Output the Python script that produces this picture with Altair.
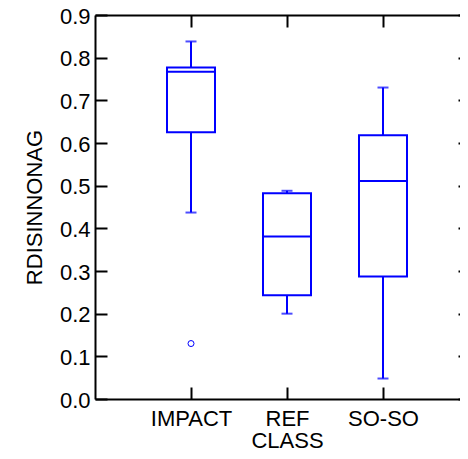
import altair as alt
import pandas as pd

classes = ["IMPACT", "REF", "SO-SO"]
lower = [0.437, 0.200, 0.048]
q1 = [0.625, 0.243, 0.287]
median = [0.767, 0.381, 0.511]
q3 = [0.777, 0.482, 0.618]
upper = [0.838, 0.488, 0.730]
outlier_class = ["IMPACT"]
outlier_value = [0.130]
y_ticks = [0.0, 0.1, 0.2, 0.3, 0.4, 0.5, 0.6, 0.7, 0.8, 0.9]

stats = pd.DataFrame({"CLASS": classes, "lower": lower, "q1": q1,
                      "median": median, "q3": q3, "upper": upper})
outs = pd.DataFrame({"CLASS": outlier_class, "value": outlier_value})

BLUE = "#0000ff"
FONT = "Liberation Sans"
FS = 22

# the original plot area is 384 wide; only the part that fits the page is shown
xscale = alt.Scale(type="point", domain=classes, padding=1, range=[0, 384])
yscale = alt.Scale(domain=[0, 0.9], nice=False, zero=False)

line = dict(domainColor="black", domainWidth=2, tickColor="black", tickWidth=2, grid=False)
txt = dict(labelFont=FONT, labelFontSize=FS, labelColor="black",
           titleFont=FONT, titleFontSize=FS, titleFontWeight="normal", titleColor="black")

x_bottom_main = alt.Axis(orient="bottom", title="CLASS", labelAngle=0, labelPadding=9,
                         ticks=False, domain=True, titlePadding=1, **txt, **line)
x_bottom_ticks = alt.Axis(orient="bottom", title=None, labels=False, domain=False,
                          offset=-12, tickSize=12, **line)
x_top_main = alt.Axis(orient="top", title=None, labels=False, ticks=False, domain=True, **line)
x_top_ticks = alt.Axis(orient="top", title=None, labels=False, domain=False,
                       offset=-12, tickSize=12, **line)
y_left_main = alt.Axis(orient="left", title="RDISINNONAG", values=y_ticks, format=".1f",
                       labelPadding=5, labelOffset=1, ticks=False, domain=True,
                       titlePadding=13, **txt, **line)
y_left_ticks = alt.Axis(orient="left", title=None, labels=False, domain=False, values=y_ticks,
                        offset=-12, tickSize=12, **line)
y_right_ticks = alt.Axis(orient="right", title=None, labels=False, domain=False, values=y_ticks,
                         offset=-2, tickSize=2, **line)

base = alt.Chart(stats)

upper_whisker = base.mark_rule(color=BLUE, strokeWidth=2).encode(
    x=alt.X("CLASS:N", scale=xscale, axis=x_bottom_main),
    y=alt.Y("q3:Q", scale=yscale, axis=y_left_main),
    y2="upper:Q",
)
lower_whisker = base.mark_rule(color=BLUE, strokeWidth=2).encode(
    x=alt.X("CLASS:N", scale=xscale, axis=x_bottom_ticks),
    y=alt.Y("lower:Q", scale=yscale, axis=y_left_ticks),
    y2="q1:Q",
)
box = base.mark_bar(fill="white", stroke=BLUE, strokeWidth=2, size=48).encode(
    x=alt.X("CLASS:N", scale=xscale, axis=x_top_main),
    y=alt.Y("q1:Q", scale=yscale, axis=y_right_ticks),
    y2="q3:Q",
)
med = base.mark_rule(color=BLUE, strokeWidth=2, xOffset=-24, x2Offset=24).encode(
    x=alt.X("CLASS:N", scale=xscale, axis=x_top_ticks),
    x2="CLASS:N",
    y=alt.Y("median:Q", scale=yscale, axis=None),
)
cap_hi = base.mark_tick(color=BLUE, size=11, thickness=2).encode(
    x=alt.X("CLASS:N", scale=xscale, axis=None),
    y=alt.Y("upper:Q", scale=yscale, axis=None),
)
cap_lo = base.mark_tick(color=BLUE, size=11, thickness=2).encode(
    x=alt.X("CLASS:N", scale=xscale, axis=None),
    y=alt.Y("lower:Q", scale=yscale, axis=None),
)
pts = alt.Chart(outs).mark_point(shape="circle", filled=False, color=BLUE,
                                 size=36, strokeWidth=1, opacity=1).encode(
    x=alt.X("CLASS:N", scale=xscale, axis=None),
    y=alt.Y("value:Q", scale=yscale, axis=None),
)

chart = alt.layer(upper_whisker, lower_whisker, box, med, cap_hi, cap_lo, pts).resolve_axis(
    x="independent", y="independent"
).properties(
    width=365, height=384,
    autosize=alt.AutoSizeParams(type="none"),
    padding={"left": 87, "top": 7, "right": 0, "bottom": 51},
    background="white",
).configure_view(stroke=None)

chart.save("out.html", embed_options={"renderer": "svg", "actions": False})
